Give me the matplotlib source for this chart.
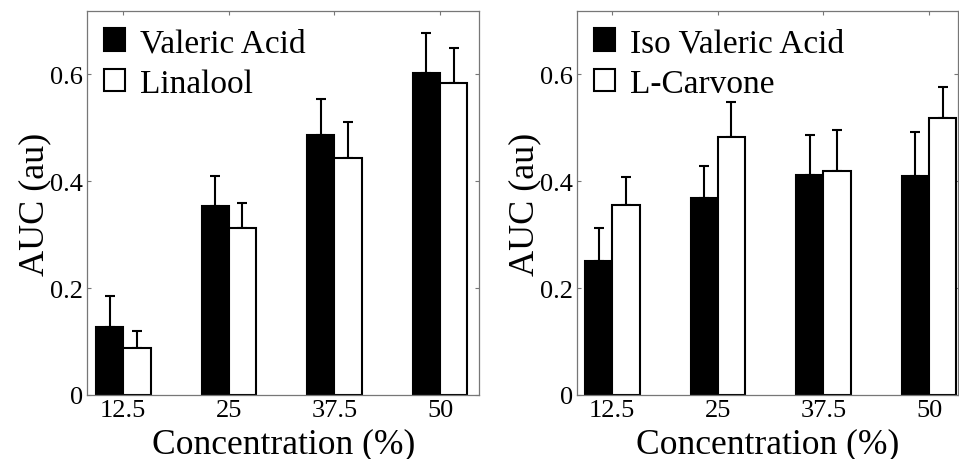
import matplotlib
matplotlib.use("Agg")
import matplotlib.pyplot as plt
import numpy as np
from matplotlib.patches import Patch

categories = ["12.5", "25", "37.5", "50"]

valeric = [0.128, 0.353, 0.487, 0.603]
valeric_err = [0.058, 0.056, 0.066, 0.073]
linalool = [0.087, 0.312, 0.444, 0.583]
linalool_err = [0.033, 0.047, 0.067, 0.065]

isovaleric = [0.250, 0.368, 0.411, 0.410]
isovaleric_err = [0.062, 0.061, 0.076, 0.082]
carvone = [0.355, 0.483, 0.418, 0.518]
carvone_err = [0.052, 0.064, 0.077, 0.058]

yticks = [0, 0.2, 0.4, 0.6]
ytick_labels = ["0", "0.2", "0.4", "0.6"]

FONT = ["Liberation Serif", "DejaVu Serif"]
plt.rcParams['font.family'] = FONT

fig = plt.figure(figsize=(9.59, 4.60), dpi=100)

W, H = 959, 460
def ax_rect(l, r, t, b):
    return [l / W, 1 - b / H, (r - l) / W, (b - t) / H]

axL = fig.add_axes(ax_rect(87.3, 479, 12, 396))
axR = fig.add_axes(ax_rect(577.3, 957.7, 12, 396))

x = np.arange(1, len(categories) + 1)
bw = 0.258
off = 0.129
gray = "#777777"

def draw(ax, a, ae, b, be, la, lb, xlim):
    ax.bar(x - off, a, bw, color="black", edgecolor="black", linewidth=1.5, zorder=2)
    ax.bar(x + off, b, bw, color="white", edgecolor="black", linewidth=1.5, zorder=2)
    ax.errorbar(x - off, a, yerr=[np.zeros(len(a)), ae], fmt="none", ecolor="black",
                elinewidth=1.5, capsize=3.5, capthick=1.5, zorder=1)
    ax.errorbar(x + off, b, yerr=[np.zeros(len(b)), be], fmt="none", ecolor="black",
                elinewidth=1.5, capsize=3.5, capthick=1.5, zorder=1)
    ax.set_xlim(*xlim)
    ax.set_ylim(0, 0.718)
    ax.set_xticks(x)
    ax.set_xticklabels(categories, fontsize=19)
    ax.set_yticks(yticks)
    ax.set_yticklabels(ytick_labels, fontsize=19)
    ax.tick_params(direction="in", length=3, width=0.8, color=gray, top=True, right=True, pad=3)
    for s in ax.spines.values():
        s.set_color(gray)
        s.set_linewidth(0.9)
    ax.set_xlabel("Concentration (%)", fontsize=25.6, labelpad=4.5)
    ax.set_ylabel("AUC (au)", fontsize=26, labelpad=-1)
    handles = [Patch(facecolor="black", edgecolor="black", linewidth=1.5),
               Patch(facecolor="white", edgecolor="black", linewidth=1.5)]
    ax.legend(handles, [la, lb], loc="upper left", frameon=False, fontsize=24,
              handlelength=0.62, handleheight=0.68, handletextpad=0.45,
              labelspacing=0.3, borderaxespad=0.3, borderpad=0.2)

draw(axL, valeric, valeric_err, linalool, linalool_err, "Valeric Acid", "Linalool",
     (1 - 36 / 105.7, 4 + 39 / 105.7))
draw(axR, isovaleric, isovaleric_err, carvone, carvone_err, "Iso Valeric Acid", "L-Carvone",
     (1 - 35 / 105.7, 4 + 28.7 / 105.7))

fig.savefig("out.png", dpi=100)
